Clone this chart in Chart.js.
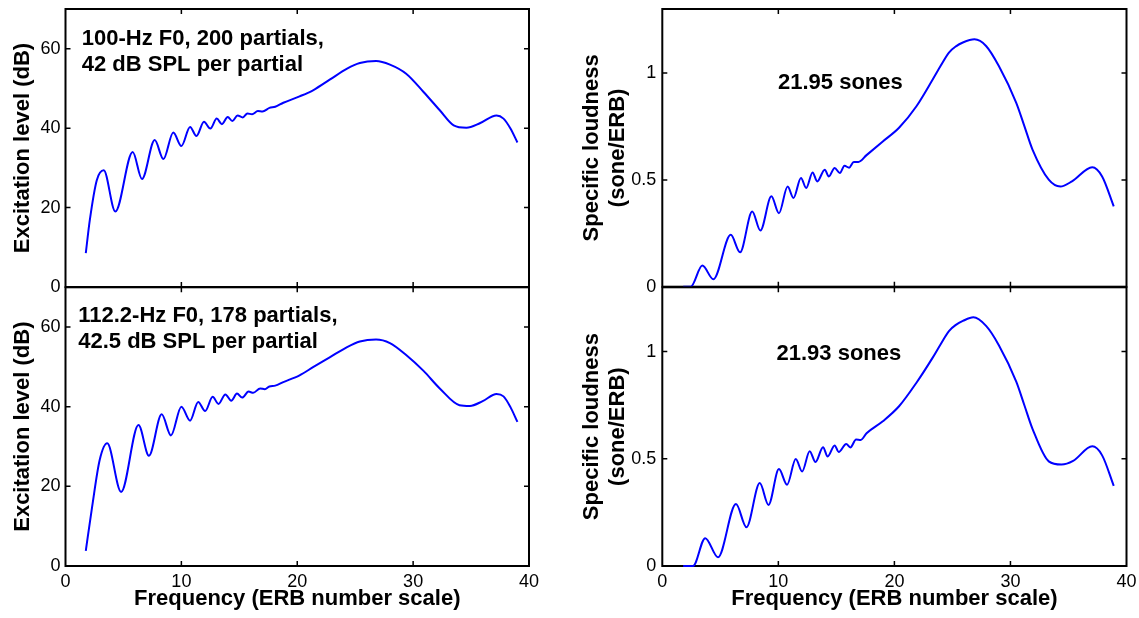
<!DOCTYPE html>
<html>
<head>
<meta charset="utf-8">
<title>Excitation and specific loudness</title>
<script src="https://cdn.jsdelivr.net/npm/chart.js@4.4.0/dist/chart.umd.min.js"></script>
<style>
  html, body { margin: 0; padding: 0; background: #fff; }
  #wrap { position: relative; width: 1139px; height: 618px; overflow: hidden; }
  #wrap canvas { position: absolute; }
</style>
</head>
<body>
<div id="wrap">
  <canvas id="excTop" width="545" height="300" style="left:0;top:0"></canvas>
  <canvas id="excBottom" width="545" height="338" style="left:0;top:280px"></canvas>
  <canvas id="loudTop" width="579" height="300" style="left:560px;top:0"></canvas>
  <canvas id="loudBottom" width="579" height="338" style="left:560px;top:280px"></canvas>
</div>
<script>
// 坐标刻度
const erbTicks = [0, 10, 20, 30, 40];
const excTicks = [0, 20, 40, 60];
const loudTicks = [0, 0.5, 1];

// 100-Hz F0 激励曲线
const erbA = [1.75, 2.1, 2.7, 3.3, 4.3, 5.8, 6.6, 7.7, 8.45, 9.3, 10.0, 10.75, 11.3, 11.95, 12.5,
  13.05, 13.5, 14.0, 14.4, 14.85, 15.3, 15.7, 16.1, 16.6, 17.0, 17.6, 18.1, 18.8, 20.2, 21.4,
  22.8, 24.3, 25.4, 26.8, 28.0, 29.4, 30.9, 32.3, 33.5, 34.6, 35.8, 37.2, 37.8, 38.4, 39.0];
const excA = [8.5, 16.9, 26.9, 29.4, 19.0, 34.0, 27.2, 37.0, 32.2, 38.9, 35.5, 40.3, 38.0, 41.6, 39.9,
  42.4, 41.0, 42.8, 41.8, 43.2, 42.7, 43.7, 43.5, 44.3, 44.2, 45.1, 45.4, 46.4, 48.0, 49.6,
  52.2, 55.0, 56.4, 56.9, 56.0, 53.7, 49.1, 44.5, 40.7, 40.1, 41.3, 43.2, 42.4, 39.9, 36.4];

// 112.2-Hz F0 激励曲线
const erbB = [1.75, 2.3, 2.95, 3.6, 4.8, 6.3, 7.2, 8.3, 9.1, 10.0, 10.75, 11.45, 12.05, 12.7, 13.2,
  13.8, 14.3, 14.8, 15.25, 15.8, 16.2, 16.8, 17.2, 17.6, 18.1, 18.8, 20.2, 21.4, 22.8, 24.3,
  25.4, 26.8, 28.0, 29.4, 30.9, 32.3, 34.0, 34.9, 36.0, 37.2, 37.8, 38.4, 39.0];
const excB = [3.8, 14.9, 26.6, 30.8, 18.6, 35.4, 27.7, 38.1, 32.8, 40.0, 36.5, 41.2, 38.9, 42.5, 40.7,
  43.1, 41.5, 43.3, 42.3, 43.8, 43.5, 44.6, 44.4, 45.1, 45.3, 46.2, 47.9, 50.0, 52.4, 55.0,
  56.4, 56.9, 56.0, 53.0, 49.0, 44.6, 40.4, 40.2, 41.4, 43.2, 42.6, 39.9, 36.2];

// 100-Hz F0 特征响度
const erbC = [1.8, 2.45, 3.45, 4.4, 5.9, 6.7, 7.75, 8.45, 9.4, 10.05, 10.8, 11.3, 11.95, 12.4, 12.95,
  13.35, 14.0, 14.35, 14.85, 15.3, 15.7, 16.1, 16.5, 16.9, 17.6, 19.0, 20.4, 21.9, 23.3, 24.0, 24.7,
  25.3, 25.9, 26.9, 27.9, 29.0, 30.5, 31.2, 31.9, 33.3, 34.3, 35.3, 37.05, 37.9, 38.9];
const loudC = [0, 0, 0.099, 0.035, 0.243, 0.161, 0.352, 0.263, 0.423, 0.344, 0.469, 0.415, 0.509, 0.462, 0.535,
  0.493, 0.548, 0.516, 0.556, 0.532, 0.566, 0.557, 0.584, 0.584, 0.616, 0.68, 0.744, 0.845, 0.97, 1.035, 1.096,
  1.125, 1.143, 1.158, 1.127, 1.033, 0.861, 0.752, 0.642, 0.501, 0.469, 0.493, 0.559, 0.516, 0.376];

// 112.2-Hz F0 特征响度
const erbD = [1.8, 2.65, 3.7, 4.8, 6.35, 7.25, 8.4, 9.15, 10.05, 10.75, 11.5, 12.05, 12.7, 13.2, 13.85,
  14.25, 14.85, 15.2, 15.85, 16.2, 16.7, 17.1, 17.6, 19.0, 20.4, 21.9, 23.3, 24.0, 24.7, 25.3, 25.9, 26.8,
  27.9, 29.0, 30.5, 31.2, 31.9, 33.3, 34.4, 35.4, 37.05, 37.9, 38.9];
const loudD = [0, 0, 0.13, 0.041, 0.289, 0.181, 0.387, 0.285, 0.452, 0.379, 0.499, 0.441, 0.535, 0.485, 0.554,
  0.511, 0.562, 0.532, 0.569, 0.553, 0.59, 0.588, 0.619, 0.675, 0.745, 0.855, 0.972, 1.036, 1.096, 1.125, 1.143, 1.16,
  1.12, 1.03, 0.86, 0.75, 0.64, 0.488, 0.473, 0.49, 0.558, 0.516, 0.374];

// 面板内的文字说明
const noteA = ['100-Hz F0, 200 partials,', '42 dB SPL per partial'];
const noteB = ['112.2-Hz F0, 178 partials,', '42.5 dB SPL per partial'];
const noteC = ['21.95 sones'];
const noteD = ['21.93 sones'];

const FONT = '"Liberation Sans", Arial, Helvetica, sans-serif';
const TICK_LEN = 5;

// MATLAB 风格的方框和向内的刻度线（先画，曲线压在上面），最后写文字说明
const framePlugin = {
  id: 'boxFrame',
  beforeDatasetsDraw(chart) {
    const { ctx, chartArea: a, scales: { x, y } } = chart;
    ctx.save();
    ctx.strokeStyle = '#000';
    ctx.lineWidth = 2;
    ctx.strokeRect(a.left, a.top, a.right - a.left, a.bottom - a.top);

    ctx.lineWidth = 1.5;
    ctx.beginPath();
    x.ticks.forEach(t => {
      if (t.value <= x.min || t.value >= x.max) return;
      const px = x.getPixelForValue(t.value);
      ctx.moveTo(px, a.bottom); ctx.lineTo(px, a.bottom - TICK_LEN);
      ctx.moveTo(px, a.top); ctx.lineTo(px, a.top + TICK_LEN);
    });
    y.ticks.forEach(t => {
      if (t.value <= y.min || t.value >= y.max) return;
      const py = y.getPixelForValue(t.value);
      ctx.moveTo(a.left, py); ctx.lineTo(a.left + TICK_LEN, py);
      ctx.moveTo(a.right, py); ctx.lineTo(a.right - TICK_LEN, py);
    });
    ctx.stroke();
    ctx.restore();
  },
  afterDraw(chart, args, opts) {
    if (!opts.note) return;
    const { ctx, scales: { x, y } } = chart;
    ctx.save();
    ctx.fillStyle = '#000';
    ctx.font = 'bold 22px ' + FONT;
    ctx.textBaseline = 'alphabetic';
    const nx = x.getPixelForValue(opts.at[0]);
    const ny = y.getPixelForValue(opts.at[1]);
    opts.note.forEach((line, i) => ctx.fillText(line, nx, ny + i * 26));
    ctx.restore();
  }
};

document.addEventListener('DOMContentLoaded', function() {
  makePanel('excTop', erbA, excA, {
    yMax: 70, yTicks: excTicks, yTitle: 'Excitation level (dB)', yWidth: 65.5, yTitlePad: 10, yTickPad: 5,
    padTop: 9, padRight: 16, xHeight: 13, showX: false, note: noteA, noteAt: [1.4, 61.0]
  });
  makePanel('excBottom', erbB, excB, {
    yMax: 70, yTicks: excTicks, yTitle: 'Excitation level (dB)', yWidth: 65.5, yTitlePad: 10, yTickPad: 5,
    padTop: 7.3, padRight: 16, xHeight: 52, showX: true, note: noteB, noteAt: [1.1, 61.2]
  });
  makePanel('loudTop', erbC, loudC, {
    yMax: 1.3, yTicks: loudTicks, yTitle: ['Specific loudness', '(sone/ERB)'], yWidth: 102.3, yTitlePad: 18.3, yTickPad: 6,
    padTop: 9, padRight: 12.5, xHeight: 13.3, showX: false, note: noteC, noteAt: [9.97, 0.927]
  });
  makePanel('loudBottom', erbD, loudD, {
    yMax: 1.3, yTicks: loudTicks, yTitle: ['Specific loudness', '(sone/ERB)'], yWidth: 102.3, yTitlePad: 18.3, yTickPad: 6,
    padTop: 7.3, padRight: 12.5, xHeight: 52, showX: true, note: noteD, noteAt: [9.84, 0.959]
  });
});

// 创建一个面板
function makePanel(id, xs, ys, o) {
  const points = xs.map((v, i) => ({ x: v, y: ys[i] }));
  return new Chart(document.getElementById(id), {
    type: 'line',
    data: {
      datasets: [{
        data: points,
        borderColor: '#0000ff',
        borderWidth: 2,
        pointRadius: 0,
        fill: false,
        clip: 2,
        cubicInterpolationMode: 'monotone'
      }]
    },
    options: {
      responsive: false,
      animation: false,
      devicePixelRatio: 1,
      layout: { padding: { top: o.padTop, right: o.padRight, left: 0, bottom: 0 } },
      plugins: {
        legend: { display: false },
        tooltip: { enabled: false },
        boxFrame: { note: o.note, at: o.noteAt }
      },
      scales: {
        x: {
          type: 'linear',
          min: 0,
          max: 40,
          afterBuildTicks: s => { s.ticks = erbTicks.map(v => ({ value: v })); },
          afterFit: s => { s.height = o.xHeight; s.paddingLeft = 0; s.paddingRight = 0; },
          grid: { display: false, drawTicks: false },
          border: { display: false },
          ticks: {
            display: o.showX, color: '#000', padding: 5, maxRotation: 0,
            font: { family: FONT, size: 18 },
            callback: v => String(v)
          },
          title: {
            display: o.showX,
            text: 'Frequency (ERB number scale)',
            color: '#000',
            padding: { top: 0, bottom: 5.8 },
            font: { family: FONT, size: 22, weight: 'bold' }
          }
        },
        y: {
          type: 'linear',
          min: 0,
          max: o.yMax,
          afterBuildTicks: s => { s.ticks = o.yTicks.map(v => ({ value: v })); },
          afterFit: s => { s.width = o.yWidth; s.paddingTop = 0; s.paddingBottom = 0; },
          grid: { display: false, drawTicks: false },
          border: { display: false },
          ticks: {
            color: '#000', padding: o.yTickPad,
            font: { family: FONT, size: 18 },
            callback: v => String(v)
          },
          title: {
            display: true,
            text: o.yTitle,
            color: '#000',
            padding: { top: o.yTitlePad, bottom: 0 },
            font: { family: FONT, size: 22, weight: 'bold', lineHeight: 1.2 }
          }
        }
      }
    },
    plugins: [framePlugin]
  });
}
</script>
</body>
</html>
